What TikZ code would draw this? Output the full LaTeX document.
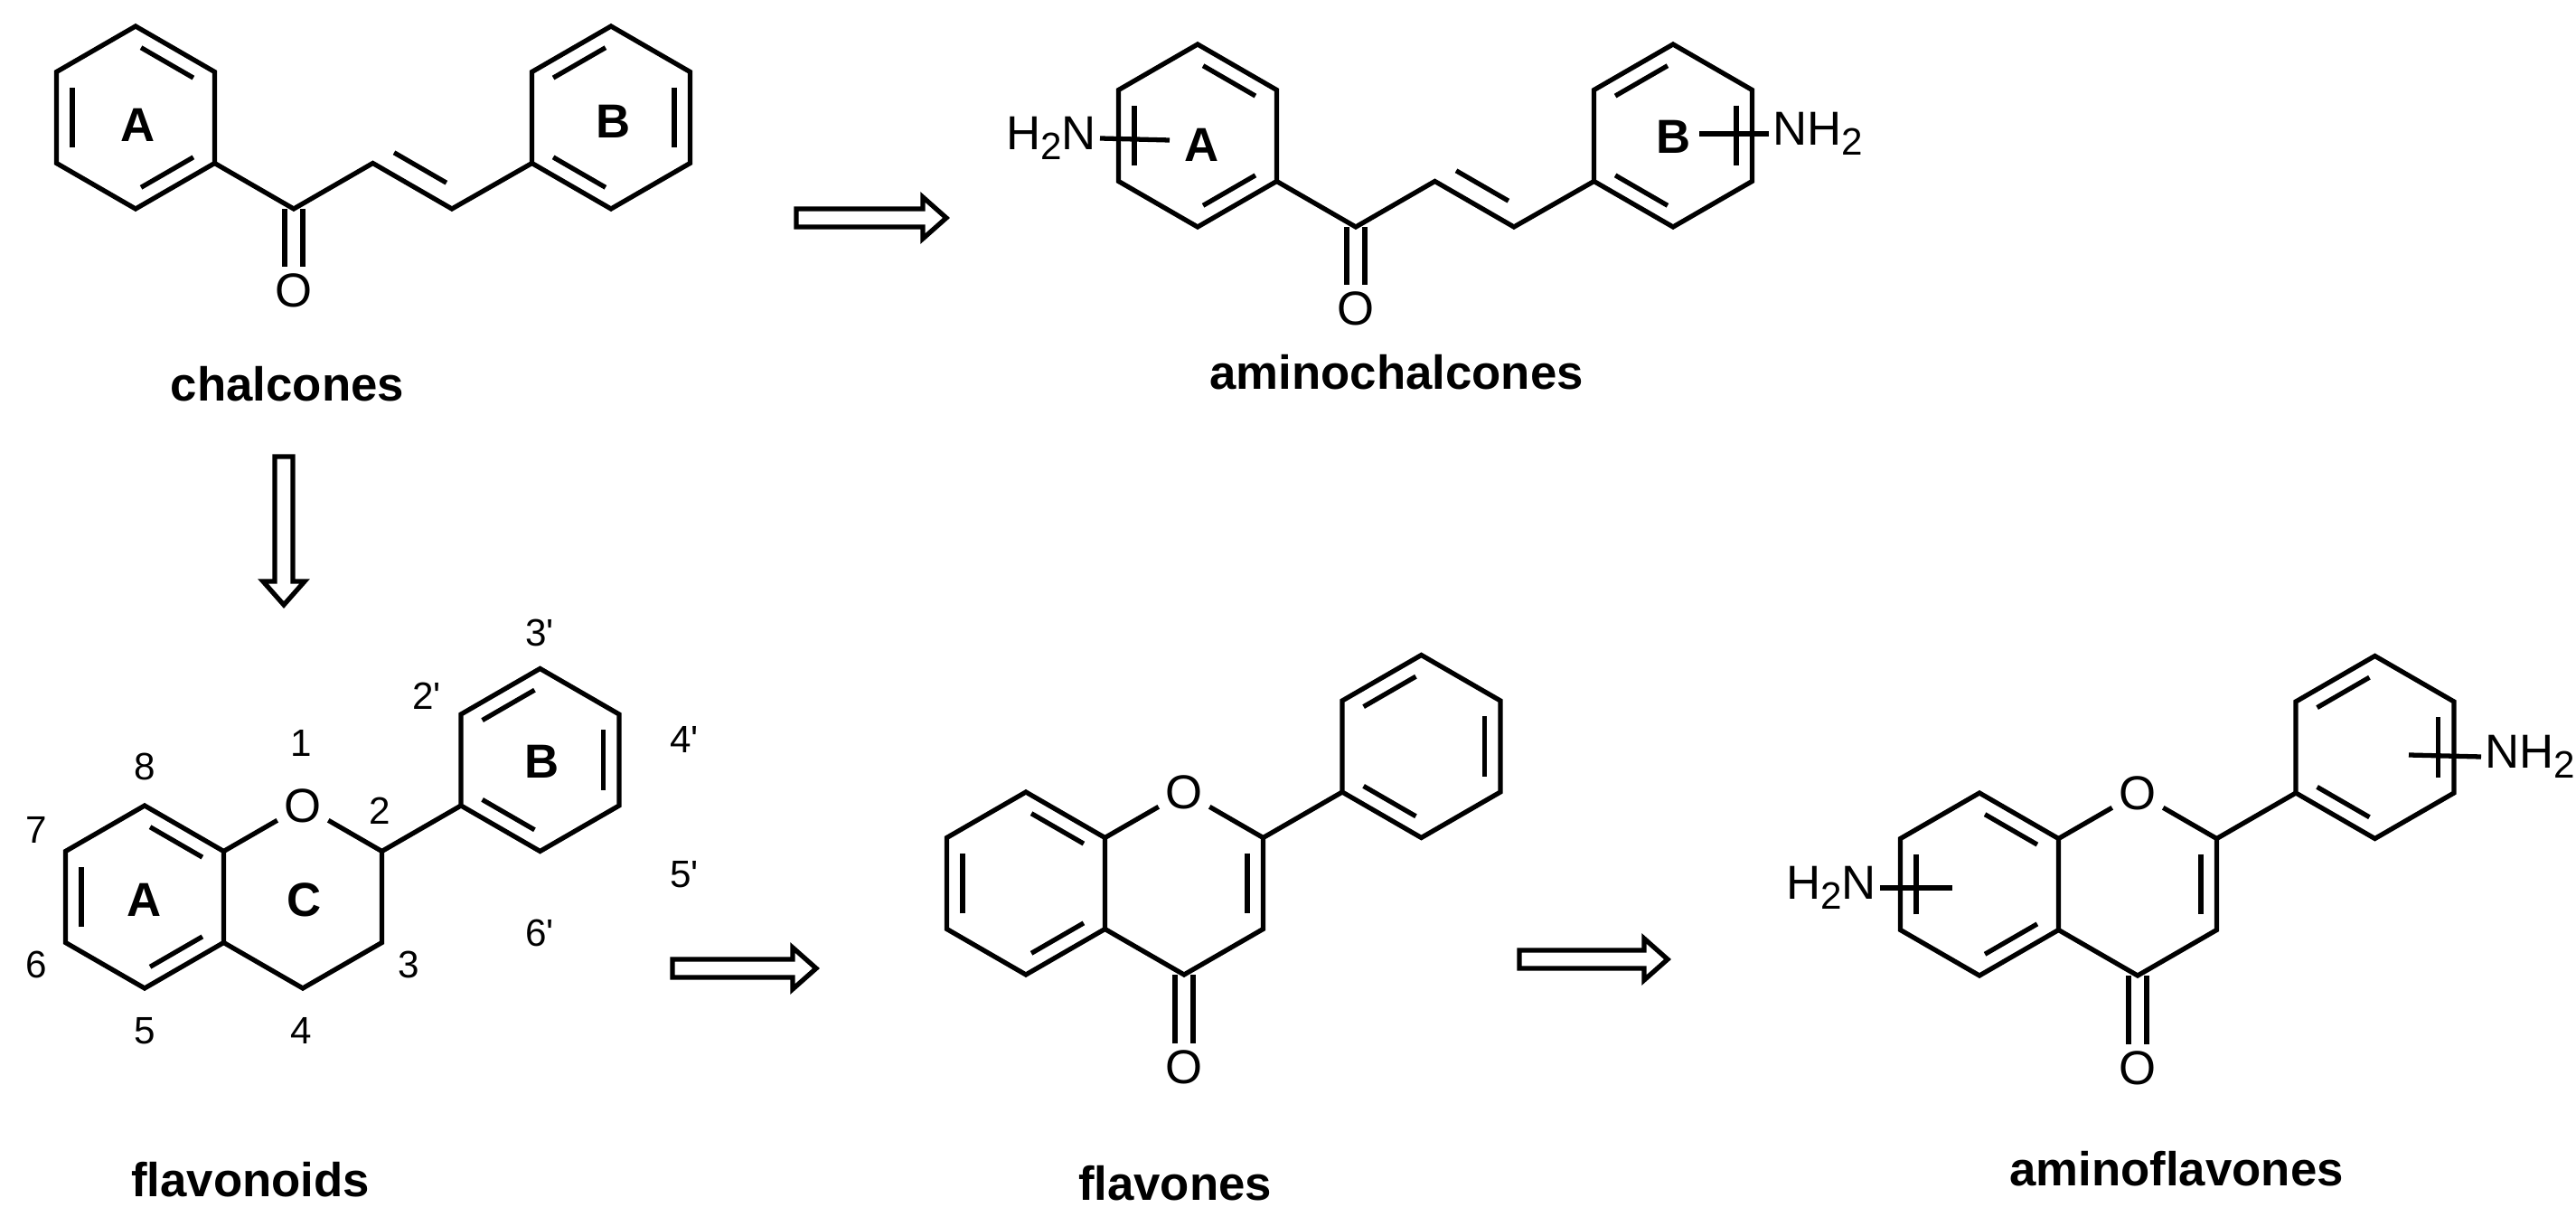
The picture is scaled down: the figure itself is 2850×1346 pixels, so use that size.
\documentclass[tikz,border=0pt]{standalone}
\usepackage{fontspec}
\setmainfont{Liberation Sans}
\usetikzlibrary{calc}

\tikzset{
	bond/.style={line width=1.5pt, line join=miter},
	atom/.style={font=\fontsize{15}{18}\selectfont, inner sep=2pt},
	num/.style={font=\fontsize{12}{14}\selectfont, inner sep=0pt},
	ringlbl/.style={font=\fontsize{15}{18}\selectfont\bfseries, inner sep=0pt},
	title/.style={font=\fontsize{15}{18}\selectfont\bfseries, inner sep=0pt},
	fat/.style={line width=1.5pt, fill=white, line join=miter}
}

% six ring corners #11..#16 (top, clockwise) around centre (#2,#3)
\newcommand\ring[3]{%
	\coordinate (#1c) at (#2,#3);
	\foreach \a/\k in {270/1,330/2,30/3,90/4,150/5,210/6}
		\coordinate (#1\k) at ($(#1c)+(\a:101)$);
	\draw[bond] (#11)--(#12)--(#13)--(#14)--(#15)--(#16)--cycle;
}
% inner line of a double bond #1-#2, pulled towards #3
\newcommand\inner[3]{%
	\draw[bond, shorten <=0.07cm, shorten >=0.07cm] ($(#1)!0.2!(#3)$) -- ($(#2)!0.2!(#3)$);
}
\newcommand\sub[1]{\raisebox{-0.4ex}{\fontsize{12}{12}\selectfont #1}}
\newcommand\pr{\textquotesingle}

% hollow arrows
\newcommand\harrow[3]{%
	\draw[fat] (#1,#3-10) -- (#2-26,#3-10) -- (#2-26,#3-23) -- (#2,#3)
		-- (#2-26,#3+23) -- (#2-26,#3+10) -- (#1,#3+10) -- cycle;
}
\newcommand\varrow[3]{%
	\draw[fat] (#1-10,#2) -- (#1-10,#3-26) -- (#1-23,#3-26) -- (#1,#3)
		-- (#1+23,#3-26) -- (#1+10,#3-26) -- (#1+10,#2) -- cycle;
}

% chalcone skeleton, prefix #1, ring A centre (#2,#3)
\newcommand\chalcone[3]{%
	\ring{#1a}{#2}{#3}
	\inner{#1a1}{#1a2}{#1ac}
	\inner{#1a5}{#1a6}{#1ac}
	\inner{#1a3}{#1a4}{#1ac}
	\coordinate (#1k) at ($(#1a3)+(87.5,50.5)$);
	\coordinate (#1e) at ($(#1k)+(87.5,-50.5)$);
	\coordinate (#1f) at ($(#1e)+(87.5,50.5)$);
	\coordinate (#1u) at ($(#1e)+(87.5,-76)$);
	\ring{#1b}{#2+526}{#3}
	\inner{#1b6}{#1b1}{#1bc}
	\inner{#1b2}{#1b3}{#1bc}
	\inner{#1b4}{#1b5}{#1bc}
	\draw[bond] (#1a3) -- (#1k) -- (#1e) -- (#1f) -- (#1b5);
	\inner{#1e}{#1f}{#1u}
	\node[atom] (#1o) at ($(#1k)+(0,90)$) {O};
	\draw[bond] ($(#1k)+(-10,0)$) -- ($(#1o.north)+(-10,0)$);
	\draw[bond] ($(#1k)+(10,0)$) -- ($(#1o.north)+(10,0)$);
}

% flavone skeleton, prefix #1, ring A centre (#2,#3)
\newcommand\flavone[3]{%
	\ring{#1a}{#2}{#3}
	\inner{#1a1}{#1a2}{#1ac}
	\inner{#1a5}{#1a6}{#1ac}
	\inner{#1a3}{#1a4}{#1ac}
	\coordinate (#1cc) at ($(#1ac)+(175,0)$);
	\node[atom] (#1o) at ($(#1cc)+(0,-101)$) {O};
	\coordinate (#1c2) at ($(#1cc)+(87.5,-50.5)$);
	\coordinate (#1c3) at ($(#1cc)+(87.5,50.5)$);
	\coordinate (#1c4) at ($(#1cc)+(0,101)$);
	\ring{#1b}{#2+437.5}{#3-151.5}
	\inner{#1b6}{#1b1}{#1bc}
	\inner{#1b2}{#1b3}{#1bc}
	\inner{#1b4}{#1b5}{#1bc}
	\draw[bond] (#1a2) -- (#1o) -- (#1c2) -- (#1c3) -- (#1c4) -- (#1a3);
	\draw[bond] (#1c2) -- (#1b5);
	\inner{#1c2}{#1c3}{#1cc}
	\node[atom] (#1q) at ($(#1c4)+(0,102)$) {O};
	\draw[bond] ($(#1c4)+(-10,0)$) -- ($(#1q.north)+(-10,0)$);
	\draw[bond] ($(#1c4)+(10,0)$) -- ($(#1q.north)+(10,0)$);
}

\begin{document}
\begin{tikzpicture}[x=0.01cm, y=-0.01cm]
	\useasboundingbox (0,0) rectangle (2850,1346);

	%========
	%Chalcones
	%========
	\chalcone{ch}{150}{130}
	\node[ringlbl] (chA) at (153,138) {A};
	\node[ringlbl] (chB) at (679,134) {B};
	\node[title] (chT) at (318,425) {chalcones};

	\harrow{881}{1047}{241}	%to aminochalcones
	\varrow{314}{505}{669}	%to flavonoids

	%========
	%Aminochalcones
	%========
	\chalcone{am}{1325}{150}
	\node[ringlbl] (amA) at (1330,160) {A};
	\node[ringlbl] (amB) at (1852,151) {B};
	\node[atom, anchor=east, inner sep=1pt] (amN1) at (1217,153) {H\sub{2}N};
	\coordinate (amT1) at (1294,155);
	\draw[bond] (amN1.east) -- (amT1);
	\node[atom, anchor=west, inner sep=1pt] (amN2) at (1957,148) {NH\sub{2}};
	\coordinate (amT2) at (1880,148);
	\draw[bond] (amT2) -- (amN2.west);
	\node[title] (amT) at (1545,412) {aminochalcones};

	%========
	%Flavonoids
	%========
	\ring{fa}{160}{992}
	\inner{fa1}{fa2}{fac}
	\inner{fa5}{fa6}{fac}
	\inner{fa3}{fa4}{fac}
	\node[atom] (fo) at (335,891) {O};
	\coordinate (fc2) at (422.5,941.5);
	\coordinate (fc3) at (422.5,1042.5);
	\coordinate (fc4) at (335,1093);
	\ring{fb}{597.5}{840.5}
	\inner{fb6}{fb1}{fbc}
	\inner{fb2}{fb3}{fbc}
	\inner{fb4}{fb5}{fbc}
	\draw[bond] (fa2) -- (fo) -- (fc2) -- (fc3) -- (fc4) -- (fa3);
	\draw[bond] (fc2) -- (fb5);
	\node[ringlbl] (faA) at (160,995) {A};
	\node[ringlbl] (faC) at (337,995) {C};
	\node[ringlbl] (fbB) at (600,842) {B};
	\node[num] (n1) at (333,822) {1};
	\node[num] (n2) at (420,897) {2};
	\node[num] (n3) at (452,1067) {3};
	\node[num] (n4) at (333,1140) {4};
	\node[num] (n5) at (160,1140) {5};
	\node[num] (n6) at (40,1067) {6};
	\node[num] (n7) at (40,918) {7};
	\node[num] (n8) at (160,848) {8};
	\node[num] (n2p) at (472,770) {2\pr};
	\node[num] (n3p) at (597,700) {3\pr};
	\node[num] (n4p) at (757,818) {4\pr};
	\node[num] (n5p) at (757,967) {5\pr};
	\node[num] (n6p) at (597,1032) {6\pr};
	\node[title] (faT) at (277,1305) {flavonoids};

	\harrow{744}{903}{1071}	%to flavones

	%========
	%Flavones
	%========
	\flavone{fl}{1135}{977}
	\node[title] (flT) at (1300,1309) {flavones};

	\harrow{1681}{1845}{1061}	%to aminoflavones

	%========
	%Aminoflavones
	%========
	\flavone{af}{2190}{978}
	\node[atom, anchor=east, inner sep=1pt] (afN1) at (2080,982) {H\sub{2}N};
	\coordinate (afT1) at (2160,982);
	\draw[bond] (afN1.east) -- (afT1);
	\node[atom, anchor=west, inner sep=1pt] (afN2) at (2745,837) {NH\sub{2}};
	\coordinate (afT2) at (2665,835);
	\draw[bond] (afT2) -- (afN2.west);
	\node[title] (afT) at (2408,1293) {aminoflavones};
\end{tikzpicture}
\end{document}
